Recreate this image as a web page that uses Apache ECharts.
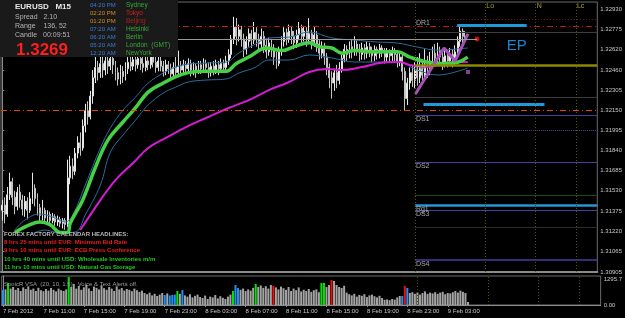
<!DOCTYPE html>
<html>
<head>
<meta charset="utf-8">
<script src="https://cdn.jsdelivr.net/npm/echarts@6.0.0/dist/echarts.min.js"></script>
<style>
html, body { margin: 0; padding: 0; background: #000; }
#main { width: 625px; height: 318px; }
</style>
</head>
<body>
<div id="main"></div>
<script>
// EURUSD M15, first bar 7 Feb 2012 07:00, 237 slots (right side is chart shift)
var barCount = 237;
var labelStep = 16;
var timeLabels = ['7 Feb 2012', '7 Feb 11:00', '7 Feb 15:00', '7 Feb 19:00', '7 Feb 23:00', '8 Feb 03:00',
    '8 Feb 07:00', '8 Feb 11:00', '8 Feb 15:00', '8 Feb 19:00', '8 Feb 23:00', '9 Feb 03:00'];
var priceLabels = [1.32930, 1.32775, 1.32620, 1.32460, 1.32305, 1.32150, 1.31995,
    1.31840, 1.31685, 1.31530, 1.31375, 1.31220, 1.31065, 1.30905];
var bidPrice = 1.32693;

// [open, close, low, high]
var candles = [
    [1.3138, 1.3142, 1.3130, 1.3146], [1.3142, 1.3135, 1.3128, 1.3148], [1.3135, 1.3150, 1.3133, 1.3156], [1.3150, 1.3160, 1.3146, 1.3167], [1.3160, 1.3148, 1.3142, 1.3163],
    [1.3148, 1.3141, 1.3135, 1.3153], [1.3141, 1.3152, 1.3138, 1.3156], [1.3152, 1.3146, 1.3140, 1.3158], [1.3146, 1.3139, 1.3134, 1.3150], [1.3139, 1.3145, 1.3133, 1.3149],
    [1.3145, 1.3138, 1.3131, 1.3148], [1.3138, 1.3147, 1.3136, 1.3152], [1.3147, 1.3155, 1.3143, 1.3167], [1.3155, 1.3147, 1.3141, 1.3158], [1.3147, 1.3140, 1.3134, 1.3151],
    [1.3140, 1.3134, 1.3129, 1.3143], [1.3134, 1.3138, 1.3130, 1.3146], [1.3138, 1.3132, 1.3128, 1.3140], [1.3132, 1.3135, 1.3129, 1.3138], [1.3135, 1.3130, 1.3127, 1.3137],
    [1.3130, 1.3133, 1.3128, 1.3136], [1.3133, 1.3129, 1.3126, 1.3135], [1.3129, 1.3131, 1.3126, 1.3134], [1.3131, 1.3128, 1.3125, 1.3133], [1.3128, 1.3130, 1.3124, 1.3132],
    [1.3130, 1.3127, 1.3123, 1.3132], [1.3127, 1.3163, 1.3125, 1.3177], [1.3163, 1.3172, 1.3158, 1.3180], [1.3172, 1.3168, 1.3162, 1.3178], [1.3168, 1.3182, 1.3165, 1.3186],
    [1.3182, 1.3190, 1.3178, 1.3195], [1.3190, 1.3186, 1.3180, 1.3198], [1.3186, 1.3203, 1.3184, 1.3208], [1.3203, 1.3215, 1.3198, 1.3220], [1.3215, 1.3210, 1.3204, 1.3222],
    [1.3210, 1.3226, 1.3208, 1.3230], [1.3226, 1.3240, 1.3220, 1.3246], [1.3240, 1.3248, 1.3236, 1.3256], [1.3248, 1.3244, 1.3238, 1.3253], [1.3244, 1.3251, 1.3240, 1.3257],
    [1.3251, 1.3246, 1.3240, 1.3258], [1.3246, 1.3253, 1.3242, 1.3260], [1.3253, 1.3249, 1.3243, 1.3258], [1.3249, 1.3255, 1.3246, 1.3262], [1.3255, 1.3250, 1.3243, 1.3259],
    [1.3250, 1.3244, 1.3238, 1.3253], [1.3244, 1.3239, 1.3234, 1.3248], [1.3239, 1.3245, 1.3235, 1.3250], [1.3245, 1.3241, 1.3236, 1.3249], [1.3241, 1.3247, 1.3238, 1.3252],
    [1.3247, 1.3252, 1.3243, 1.3256], [1.3252, 1.3249, 1.3245, 1.3257], [1.3249, 1.3254, 1.3246, 1.3258], [1.3254, 1.3250, 1.3245, 1.3257], [1.3250, 1.3255, 1.3247, 1.3259],
    [1.3255, 1.3251, 1.3246, 1.3258], [1.3251, 1.3248, 1.3244, 1.3256], [1.3248, 1.3253, 1.3245, 1.3257], [1.3253, 1.3250, 1.3246, 1.3256], [1.3250, 1.3256, 1.3247, 1.3260],
    [1.3256, 1.3252, 1.3248, 1.3259], [1.3252, 1.3248, 1.3244, 1.3256], [1.3248, 1.3253, 1.3245, 1.3257], [1.3253, 1.3249, 1.3245, 1.3258], [1.3249, 1.3245, 1.3241, 1.3253],
    [1.3245, 1.3250, 1.3242, 1.3254], [1.3250, 1.3247, 1.3243, 1.3253], [1.3247, 1.3243, 1.3239, 1.3251], [1.3243, 1.3248, 1.3240, 1.3252], [1.3248, 1.3244, 1.3240, 1.3258],
    [1.3244, 1.3249, 1.3241, 1.3261], [1.3249, 1.3246, 1.3242, 1.3253], [1.3246, 1.3250, 1.3243, 1.3254], [1.3250, 1.3247, 1.3242, 1.3253], [1.3247, 1.3251, 1.3244, 1.3255],
    [1.3251, 1.3246, 1.3241, 1.3254], [1.3246, 1.3249, 1.3242, 1.3252], [1.3249, 1.3245, 1.3240, 1.3251], [1.3245, 1.3250, 1.3243, 1.3253], [1.3250, 1.3247, 1.3243, 1.3253],
    [1.3247, 1.3251, 1.3244, 1.3255], [1.3251, 1.3248, 1.3244, 1.3254], [1.3248, 1.3244, 1.3240, 1.3252], [1.3244, 1.3249, 1.3241, 1.3252], [1.3249, 1.3246, 1.3242, 1.3253],
    [1.3246, 1.3250, 1.3243, 1.3254], [1.3250, 1.3247, 1.3242, 1.3253], [1.3247, 1.3251, 1.3244, 1.3255], [1.3251, 1.3248, 1.3245, 1.3254], [1.3248, 1.3253, 1.3246, 1.3257],
    [1.3253, 1.3258, 1.3250, 1.3262], [1.3258, 1.3270, 1.3255, 1.3273], [1.3270, 1.3279, 1.3266, 1.3287], [1.3279, 1.3272, 1.3265, 1.3286], [1.3272, 1.3277, 1.3268, 1.3281],
    [1.3277, 1.3270, 1.3264, 1.3280], [1.3270, 1.3262, 1.3256, 1.3274], [1.3262, 1.3268, 1.3258, 1.3272], [1.3268, 1.3274, 1.3264, 1.3278], [1.3274, 1.3269, 1.3263, 1.3277],
    [1.3269, 1.3275, 1.3266, 1.3283], [1.3275, 1.3270, 1.3264, 1.3279], [1.3270, 1.3266, 1.3260, 1.3274], [1.3266, 1.3272, 1.3262, 1.3278], [1.3272, 1.3265, 1.3259, 1.3276],
    [1.3265, 1.3260, 1.3255, 1.3269], [1.3260, 1.3267, 1.3257, 1.3271], [1.3267, 1.3262, 1.3256, 1.3270], [1.3262, 1.3256, 1.3250, 1.3266], [1.3256, 1.3251, 1.3247, 1.3260],
    [1.3251, 1.3260, 1.3249, 1.3264], [1.3260, 1.3268, 1.3257, 1.3272], [1.3268, 1.3275, 1.3264, 1.3279], [1.3275, 1.3270, 1.3265, 1.3278], [1.3270, 1.3276, 1.3267, 1.3281],
    [1.3276, 1.3272, 1.3266, 1.3280], [1.3272, 1.3267, 1.3262, 1.3276], [1.3267, 1.3273, 1.3263, 1.3277], [1.3273, 1.3278, 1.3269, 1.3283], [1.3278, 1.3272, 1.3267, 1.3281],
    [1.3272, 1.3276, 1.3268, 1.3280], [1.3276, 1.3270, 1.3264, 1.3279], [1.3270, 1.3274, 1.3266, 1.3286], [1.3274, 1.3268, 1.3262, 1.3277], [1.3268, 1.3273, 1.3264, 1.3279],
    [1.3273, 1.3266, 1.3260, 1.3276], [1.3266, 1.3259, 1.3254, 1.3269], [1.3259, 1.3264, 1.3255, 1.3268], [1.3264, 1.3256, 1.3250, 1.3267], [1.3256, 1.3248, 1.3242, 1.3259],
    [1.3248, 1.3240, 1.3232, 1.3251], [1.3240, 1.3236, 1.3224, 1.3245], [1.3236, 1.3244, 1.3230, 1.3247], [1.3244, 1.3238, 1.3232, 1.3250], [1.3238, 1.3247, 1.3235, 1.3252],
    [1.3247, 1.3255, 1.3244, 1.3258], [1.3255, 1.3262, 1.3252, 1.3266], [1.3262, 1.3258, 1.3253, 1.3265], [1.3258, 1.3264, 1.3255, 1.3268], [1.3264, 1.3260, 1.3255, 1.3270],
    [1.3260, 1.3266, 1.3257, 1.3272], [1.3266, 1.3262, 1.3257, 1.3269], [1.3262, 1.3258, 1.3253, 1.3266], [1.3258, 1.3263, 1.3254, 1.3267], [1.3263, 1.3259, 1.3254, 1.3266],
    [1.3259, 1.3264, 1.3255, 1.3268], [1.3264, 1.3261, 1.3256, 1.3267], [1.3261, 1.3257, 1.3252, 1.3264], [1.3257, 1.3262, 1.3253, 1.3265], [1.3262, 1.3259, 1.3254, 1.3264],
    [1.3259, 1.3263, 1.3255, 1.3266], [1.3263, 1.3260, 1.3256, 1.3265], [1.3260, 1.3256, 1.3251, 1.3263], [1.3256, 1.3260, 1.3252, 1.3263], [1.3260, 1.3257, 1.3252, 1.3262],
    [1.3257, 1.3261, 1.3253, 1.3264], [1.3261, 1.3258, 1.3253, 1.3263], [1.3258, 1.3253, 1.3248, 1.3261], [1.3253, 1.3256, 1.3249, 1.3259], [1.3256, 1.3245, 1.3238, 1.3258],
    [1.3245, 1.3224, 1.3215, 1.3248], [1.3224, 1.3236, 1.3219, 1.3240], [1.3236, 1.3244, 1.3231, 1.3248], [1.3244, 1.3238, 1.3233, 1.3250], [1.3238, 1.3246, 1.3232, 1.3252],
    [1.3246, 1.3240, 1.3234, 1.3256], [1.3240, 1.3247, 1.3236, 1.3259], [1.3247, 1.3242, 1.3235, 1.3252], [1.3242, 1.3250, 1.3238, 1.3262], [1.3250, 1.3245, 1.3240, 1.3257],
    [1.3245, 1.3253, 1.3242, 1.3260], [1.3253, 1.3259, 1.3249, 1.3264], [1.3259, 1.3255, 1.3250, 1.3266], [1.3255, 1.3261, 1.3251, 1.3267], [1.3261, 1.3256, 1.3250, 1.3264],
    [1.3256, 1.3251, 1.3246, 1.3260], [1.3251, 1.3257, 1.3248, 1.3262], [1.3257, 1.3253, 1.3248, 1.3261], [1.3253, 1.3258, 1.3249, 1.3263], [1.3258, 1.3254, 1.3248, 1.3262],
    [1.3254, 1.3260, 1.3250, 1.3265], [1.3260, 1.3268, 1.3256, 1.3272], [1.3268, 1.3276, 1.3264, 1.3280], [1.3276, 1.3272, 1.3266, 1.3278], [1.3272, 1.3269, 1.3266, 1.3276]
];

// SonicR VSA volume + coloured bars (bar index)
var volumes = [
    750, 780, 1100, 820, 900, 760, 850, 700, 880, 800,
    930, 760, 820, 700, 860, 740, 690, 800, 720, 850,
    760, 680, 820, 740, 700, 780, 1400, 900, 1050, 820,
    950, 760, 880, 1000, 830, 700, 920, 860, 780, 980,
    840, 760, 900, 820, 700, 930, 780, 850, 720, 800,
    760, 690, 820, 740, 660, 720, 600, 540, 620, 480,
    560, 450, 520, 600, 500, 580, 480, 500, 520, 700,
    560, 750, 480, 420, 540, 380, 460, 520, 400, 350,
    470, 300, 420, 380, 500, 330, 440, 360, 300, 420,
    520, 700, 1000, 850, 760, 820, 700, 780, 720, 860,
    1050, 900, 980, 860, 940, 820, 1000, 950, 880, 780,
    920, 840, 760, 900, 700, 820, 740, 880, 680, 760,
    700, 800, 660, 740, 780, 640, 1100, 1100, 900, 1000,
    1250, 1200, 1000, 900, 850, 960, 620, 540, 480, 560,
    420, 500, 460, 540, 400, 480, 520, 440, 380, 460,
    350, 260, 280, 240, 300, 270, 380, 450, 450, 950,
    850, 600, 640, 560, 620, 520, 600, 680, 560, 620,
    580, 640, 560, 620, 660, 540, 600, 580, 640, 700,
    620, 720, 660, 600, 150
];
var volGreen = [2, 26, 69, 91, 100, 126, 127];
var volBlue = [0, 64, 66, 67, 68, 71, 92, 93, 158, 160];
var volRed = [107, 130, 159];

// moving averages: [bar, price]
var maGreen = [[5, 1.3121], [11, 1.3127], [15, 1.3129], [19, 1.3127], [23, 1.3121], [26, 1.3121], [27, 1.3128],
    [32, 1.3146], [37, 1.3171], [42, 1.3192], [48, 1.3206], [53, 1.3217], [58, 1.3229], [64, 1.3236],
    [69, 1.3241], [74, 1.3244], [81, 1.3245], [89, 1.3245], [93, 1.3251], [98, 1.3256], [105, 1.3263],
    [111, 1.3261], [116, 1.3264], [122, 1.3267], [126, 1.3264], [131, 1.3263], [135, 1.3259], [140, 1.3261],
    [148, 1.3260], [157, 1.3260], [162, 1.3256], [169, 1.3252], [176, 1.3251], [181, 1.3252], [185, 1.3256]];
var bandUpper = [[5, 1.31228], [9, 1.31305], [15, 1.31352], [21, 1.31321], [25, 1.31290], [28, 1.31344],
    [33, 1.31575], [39, 1.31860], [43, 1.32014], [48, 1.32152], [53, 1.32252], [58, 1.32360], [64, 1.32437],
    [69, 1.32483], [74, 1.32506], [81, 1.32514], [89, 1.32522], [94, 1.32591], [100, 1.32653], [106, 1.32707],
    [114, 1.32714], [122, 1.32753], [131, 1.32707], [140, 1.32691], [149, 1.32676], [157, 1.32668],
    [165, 1.32637], [173, 1.32614], [185, 1.32630]];
var bandLower = [[11, 1.31190], [17, 1.31228], [23, 1.31205], [29, 1.31213], [33, 1.31344], [39, 1.31575],
    [43, 1.31829], [48, 1.31960], [53, 1.32075], [58, 1.32191], [64, 1.32283], [69, 1.32329], [74, 1.32368],
    [81, 1.32383], [89, 1.32391], [94, 1.32437], [100, 1.32476], [106, 1.32537], [114, 1.32537],
    [122, 1.32576], [131, 1.32553], [140, 1.32522], [149, 1.32522], [157, 1.32522], [165, 1.32460],
    [173, 1.32422], [185, 1.32476]];
var maMagenta = [[31, 1.31228], [39, 1.31459], [45, 1.31613], [52, 1.31744], [58, 1.31860], [65, 1.31937],
    [73, 1.32021], [81, 1.32091], [90, 1.32168], [98, 1.32229], [106, 1.32306], [114, 1.32368], [122, 1.32445],
    [129, 1.32468], [135, 1.32460], [143, 1.32483], [150, 1.32514], [158, 1.32522], [162, 1.32499],
    [169, 1.32483], [176, 1.32514], [185, 1.32522]];

// drawn objects
var zigzag = [[164.2, 1.32276], [175.6, 1.32630], [180.0, 1.32530], [185.1, 1.32738]];
var redDot = [[188.7, 1.32699]];
var violetDot = [[185.1, 1.32445]];
var epBoxTop = [180.8, 208.4, 1.32807];
var epBoxBottom = [167.4, 215.5, 1.32199];
var epLabel = [204.5, 1.32645];

// daily levels, drawn from the day start
var dayStart = 164;
var dayLevels = [1.32853, 1.32753, 1.32499, 1.32252, 1.32114, 1.31998, 1.31752, 1.31498, 1.31421, 1.31382, 1.31253, 1.30998];
var dayLevelNames = ['DR1', '', 'DP', '', 'DS1', '', 'DS2', '', 'Rg1', 'DS3', '', 'DS4'];
var wideLevels = [1.32799, 1.32152];
var sessionBars = [164, 192, 212, 228];
var sessionNames = ['', 'Lo', 'N', 'Lc'];

var clockTimes = ['04:20 PM', '02:20 PM', '01:20 PM', '07:20 AM', '06:20 AM', '05:20 AM', '12:20 AM'];
var clockCities = ['Sydney', 'Tokyo', 'Beijing', 'Helsinki', 'Berlin', 'London  (GMT)', 'NewYork'];
var headlines = [
    'FOREX FACTORY CALENDAR HEADLINES:',
    '8 hrs 25 mins until EUR: Minimum Bid Rate',
    '9 hrs 10 mins until EUR: ECB Press Conference',
    '10 hrs 40 mins until USD: Wholesale Inventories m/m',
    '11 hrs 10 mins until USD: Natural Gas Storage'
];

var font = '"Liberation Sans", Arial, sans-serif';
var chart = echarts.init(document.getElementById('main'));

var cats = [];
for (var i = 0; i < barCount; i++) cats.push(i);

var levelStyles = [
    {color: '#7c1a1a', type: [1, 2], width: 1},
    {color: '#3c3c3c', type: 'solid', width: 1},
    {color: '#8c8a00', type: 'solid', width: 2.5},
    {color: '#3c3c3c', type: 'solid', width: 1},
    {color: '#4a3c9c', type: 'solid', width: 1},
    {color: '#5c3c9c', type: [1, 1], width: 1},
    {color: '#4a3c9c', type: 'solid', width: 1},
    {color: '#1c4a1c', type: 'solid', width: 1},
    {color: '#2596d8', type: 'solid', width: 2.5},
    {color: '#4a3c9c', type: 'solid', width: 1},
    {color: '#2c2c2c', type: 'solid', width: 1},
    {color: '#4a3c9c', type: 'solid', width: 1.5}
];
var wideStyles = [
    {color: '#c41414', type: [6, 3, 1, 3], width: 1},
    {color: '#dc4600', type: [6, 3, 1, 3], width: 1}
];

var levelLines = [];
dayLevels.forEach(function (v, k) {
    levelLines.push([
        {coord: [dayStart, v], lineStyle: levelStyles[k],
         label: {show: dayLevelNames[k] !== '', formatter: dayLevelNames[k], position: 'insideStartBottom',
                 color: '#a8a8a8', fontSize: 7, fontFamily: font, distance: [1, 1]}},
        {coord: [barCount - 0.5, v]}
    ]);
});
wideLevels.forEach(function (v, k) {
    levelLines.push([{coord: [-0.5, v], lineStyle: wideStyles[k], label: {show: false}}, {coord: [barCount - 0.5, v]}]);
});
// bid line ends at the red dot
levelLines.push([{coord: [-0.5, redDot[0][1]], lineStyle: {color: '#9a9a9a', width: 1, type: 'solid'}, label: {show: false}},
    {coord: [redDot[0][0], redDot[0][1]]}]);
levelLines.push([{coord: [epBoxTop[0], epBoxTop[2]], lineStyle: {color: '#1f9ad8', width: 3, type: 'solid'}, label: {show: false}},
    {coord: [epBoxTop[1], epBoxTop[2]]}]);
levelLines.push([{coord: [epBoxBottom[0], epBoxBottom[2]], lineStyle: {color: '#1f9ad8', width: 3, type: 'solid'}, label: {show: false}},
    {coord: [epBoxBottom[1], epBoxBottom[2]]}]);
// current price tag on the axis
levelLines.push({yAxis: bidPrice, lineStyle: {opacity: 0},
    label: {show: true, position: 'end', formatter: bidPrice.toFixed(5), backgroundColor: '#c4c4c4', color: '#000',
            fontSize: 6, fontFamily: font, padding: [1, 1, 0, 1], distance: 1}});

var sessionLines = sessionBars.map(function (b) {
    return {xAxis: b, lineStyle: {color: '#54540e', type: [1, 2], width: 1}, label: {show: false}};
});
var sessionTags = [];
sessionBars.forEach(function (b, k) {
    if (sessionNames[k]) {
        sessionTags.push({coord: [b, 1.32955], symbolSize: 0,
            label: {show: true, formatter: sessionNames[k], position: 'right', distance: 1,
                    color: '#b0a018', fontSize: 7, fontFamily: font}});
    }
});
sessionTags.push({coord: epLabel, symbolSize: 0,
    label: {show: true, formatter: 'EP', position: 'inside', color: '#1c84cc', fontSize: 15, fontFamily: font}});

var volData = volumes.map(function (v, k) {
    var c = '#a4a4a4';
    if (volGreen.indexOf(k) >= 0) c = '#00e600';
    else if (volBlue.indexOf(k) >= 0) c = '#2290f0';
    else if (volRed.indexOf(k) >= 0) c = '#f01010';
    return {value: v, itemStyle: {color: c}};
});

function showTick(idx) {
    return idx % labelStep === 0 && idx / labelStep < timeLabels.length;
}

var graphics = [
    {type: 'rect', shape: {x: 0, y: 0, width: 178, height: 57}, style: {fill: '#1a1a1a'}, z: 100},
    {type: 'text', x: 15, y: 7, z: 101, style: {text: 'EURUSD   M15', fill: '#e6e6e6', font: 'bold 8px ' + font, verticalAlign: 'middle'}},
    {type: 'text', x: 15, y: 17, z: 101, style: {text: 'Spread   2.10', fill: '#b4b4b4', font: '7px ' + font, verticalAlign: 'middle'}},
    {type: 'text', x: 15, y: 26, z: 101, style: {text: 'Range    136, 52', fill: '#b4b4b4', font: '7px ' + font, verticalAlign: 'middle'}},
    {type: 'text', x: 15, y: 35, z: 101, style: {text: 'Candle   00:09:51', fill: '#b4b4b4', font: '7px ' + font, verticalAlign: 'middle'}},
    {type: 'text', x: 16, y: 50, z: 101, style: {text: bidPrice.toFixed(4), fill: '#ff1e1e', font: 'bold 17px ' + font, verticalAlign: 'middle'}},
    {type: 'text', x: 4, y: 284, z: 101, style: {text: 'SonicR VSA  (20, 10, 1.5),  Voice & Text Alerts off.', fill: '#9c9c9c', font: '6px ' + font, verticalAlign: 'middle'}}
];
var timeColors = ['#3a7cd6', '#d68a2a', '#d68a2a', '#3a7cd6', '#3a7cd6', '#3a7cd6', '#3a7cd6'];
var cityColors = ['#38a838', '#d02020', '#b41c1c', '#38a838', '#38a838', '#38a838', '#38a838'];
clockTimes.forEach(function (t, k) {
    graphics.push({type: 'text', x: 90, y: 5 + k * 8.1, z: 101, style: {text: t, fill: timeColors[k], font: '6px ' + font, verticalAlign: 'middle'}});
    graphics.push({type: 'text', x: 126, y: 5 + k * 8.1, z: 101, style: {text: clockCities[k], fill: cityColors[k], font: '6.5px ' + font, verticalAlign: 'middle'}});
});
var headColors = ['#b8b8b8', '#f01e1e', '#f01e1e', '#22c822', '#22c822'];
headlines.forEach(function (t, k) {
    graphics.push({type: 'text', x: 4, y: 234 + k * 8.4, z: 101, style: {text: t, fill: headColors[k], font: 'bold 6px ' + font, verticalAlign: 'middle'}});
});

var option = {
    backgroundColor: '#000',
    animation: false,
    grid: [
        {left: 1, right: 24, top: 2, height: 270, show: true, borderColor: '#6c6c6c', borderWidth: 1},
        {left: 1, right: 24, top: 276, height: 29, show: true, borderColor: '#6c6c6c', borderWidth: 1}
    ],
    xAxis: [
        {type: 'category', gridIndex: 0, data: cats, boundaryGap: true,
         axisLine: {show: true, lineStyle: {color: '#8c8c8c', width: 2}}, axisTick: {show: false}, axisLabel: {show: false}, splitLine: {show: false}},
        {type: 'category', gridIndex: 1, data: cats, boundaryGap: true,
         axisLine: {show: true, lineStyle: {color: '#8c8c8c'}},
         axisTick: {show: true, interval: showTick, alignWithLabel: true, length: 2, lineStyle: {color: '#8c8c8c'}},
         axisLabel: {interval: showTick, formatter: function (v, idx) { return timeLabels[idx / labelStep]; },
                     color: '#c8c8c8', fontSize: 6, fontFamily: font, align: 'left', margin: 3}},
        {type: 'value', gridIndex: 0, min: -0.5, max: barCount - 0.5, show: false},
        {type: 'value', gridIndex: 1, min: -0.5, max: barCount - 0.5, show: false}
    ],
    yAxis: [
        {type: 'value', gridIndex: 0, position: 'right', min: 1.30905, max: 1.32984,
         axisLine: {show: true, lineStyle: {color: '#8c8c8c'}},
         axisTick: {show: true, length: 2, customValues: priceLabels, lineStyle: {color: '#8c8c8c'}},
         axisLabel: {customValues: priceLabels, formatter: function (v) { return v.toFixed(5); },
                     color: '#c8c8c8', fontSize: 6, fontFamily: font, margin: 3},
         splitLine: {show: false}},
        {type: 'value', gridIndex: 1, position: 'right', min: 0, max: 1450,
         axisLine: {show: true, lineStyle: {color: '#8c8c8c'}},
         axisTick: {show: false},
         axisLabel: {customValues: [1295.7, 0], formatter: function (v) { return v ? v.toFixed(1) : '0.00'; },
                     color: '#c8c8c8', fontSize: 6, fontFamily: font, margin: 3},
         splitLine: {show: false}}
    ],
    series: [
        {type: 'candlestick', xAxisIndex: 0, yAxisIndex: 0, data: candles, barWidth: 1.4,
         itemStyle: {color: '#000', color0: '#c4c4c4', borderColor: '#e8e8e8', borderColor0: '#c4c4c4', borderWidth: 1}},
        {type: 'line', xAxisIndex: 2, yAxisIndex: 0, data: [], symbol: 'none',
         markLine: {silent: true, symbol: ['none', 'none'], data: levelLines}},
        {type: 'line', xAxisIndex: 2, yAxisIndex: 0, data: [], symbol: 'none',
         markLine: {silent: true, symbol: ['none', 'none'], data: sessionLines},
         markPoint: {silent: true, symbol: 'circle', data: sessionTags}},
        {type: 'line', xAxisIndex: 2, yAxisIndex: 0, data: bandUpper, symbol: 'none', smooth: 0.4,
         lineStyle: {color: '#2a6c9c', width: 1}},
        {type: 'line', xAxisIndex: 2, yAxisIndex: 0, data: bandLower, symbol: 'none', smooth: 0.4,
         lineStyle: {color: '#2a6c9c', width: 1}},
        {type: 'line', xAxisIndex: 2, yAxisIndex: 0, data: maMagenta, symbol: 'none', smooth: 0.4,
         lineStyle: {color: '#d41cd4', width: 2}},
        {type: 'line', xAxisIndex: 2, yAxisIndex: 0, data: maGreen, symbol: 'none', smooth: 0.4,
         lineStyle: {color: '#46d046', width: 3.5}},
        {type: 'line', xAxisIndex: 2, yAxisIndex: 0, data: zigzag, symbol: 'none',
         lineStyle: {color: '#a450b8', width: 3}},
        {type: 'scatter', xAxisIndex: 2, yAxisIndex: 0, data: redDot, symbol: 'circle', symbolSize: 5,
         itemStyle: {color: '#f01414'}},
        {type: 'scatter', xAxisIndex: 2, yAxisIndex: 0, data: violetDot, symbol: 'rect', symbolSize: 4,
         itemStyle: {color: '#a450b8'}},
        {type: 'bar', xAxisIndex: 1, yAxisIndex: 1, data: volData, barWidth: 2},
        {type: 'line', xAxisIndex: 3, yAxisIndex: 1, data: [], symbol: 'none',
         markLine: {silent: true, symbol: ['none', 'none'], data: sessionLines}}
    ],
    graphic: graphics
};

chart.setOption(option);
</script>
</body>
</html>
